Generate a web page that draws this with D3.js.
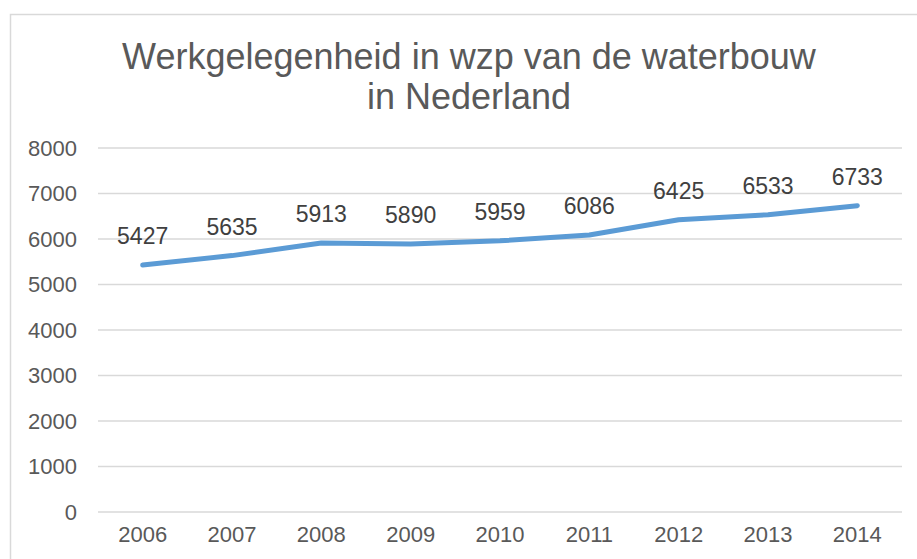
<!DOCTYPE html>
<html>
<head>
<meta charset="utf-8">
<script src="https://cdn.jsdelivr.net/npm/d3@7"></script>
<style>
  body { margin: 0; background: #fff; }
  text { font-family: "Liberation Sans", Arial, sans-serif; fill: #595959; }
</style>
</head>
<body>
<div id="chart"></div>
<script>
var years = ["2006", "2007", "2008", "2009", "2010", "2011", "2012", "2013", "2014"];
var jobs = [5427, 5635, 5913, 5890, 5959, 6086, 6425, 6533, 6733];
var yTicks = [0, 1000, 2000, 3000, 4000, 5000, 6000, 7000, 8000];
var titleLines = ["Werkgelegenheid in wzp van de waterbouw", "in Nederland"];

var width = 917, height = 559;
var plot = {left: 98, right: 902, top: 148, bottom: 512};

var svg = d3.select("#chart").append("svg")
    .attr("width", width)
    .attr("height", height);

// chart frame, runs off the right and bottom edge
svg.append("rect")
    .attr("x", 10.5).attr("y", 14.5)
    .attr("width", 940).attr("height", 600)
    .attr("fill", "#fff")
    .attr("stroke", "#d9d9d9")
    .attr("stroke-width", 1.5);

svg.selectAll(".title")
    .data(titleLines)
    .enter().append("text")
    .attr("class", "title")
    .attr("x", 469)
    .attr("y", function(d, i) { return 69 + i * 40; })
    .attr("text-anchor", "middle")
    .style("font-size", "36px")
    .text(function(d) { return d; });

var x = d3.scaleBand()
    .domain(years)
    .range([plot.left, plot.right]);

var y = d3.scaleLinear()
    .domain([0, 8000])
    .range([plot.bottom, plot.top]);

// gridlines
svg.append("g")
    .selectAll("line")
    .data(yTicks)
    .enter().append("line")
    .attr("x1", plot.left).attr("x2", plot.right)
    .attr("y1", function(d) { return y(d); })
    .attr("y2", function(d) { return y(d); })
    .attr("stroke", "#d9d9d9")
    .attr("stroke-width", 1.5);

var yAxis = d3.axisLeft(y).tickValues(yTicks).tickFormat(d3.format("d")).tickSize(0).tickPadding(21);
var yg = svg.append("g")
    .attr("transform", "translate(" + plot.left + ",0)")
    .call(yAxis);
yg.select(".domain").remove();
yg.selectAll("text").style("font-size", "22px").attr("fill", "#595959");

var xAxis = d3.axisBottom(x).tickSize(0).tickPadding(14);
var xg = svg.append("g")
    .attr("transform", "translate(0," + plot.bottom + ")")
    .call(xAxis);
xg.select(".domain").remove();
xg.selectAll("text").style("font-size", "22px").attr("fill", "#595959");

var valueline = d3.line()
    .x(function(d, i) { return x(years[i]) + x.bandwidth() / 2; })
    .y(function(d) { return y(d); });

svg.append("path")
    .datum(jobs)
    .attr("d", valueline)
    .attr("fill", "none")
    .attr("stroke", "#5b9bd5")
    .attr("stroke-width", 5)
    .attr("stroke-linejoin", "round")
    .attr("stroke-linecap", "round");

svg.selectAll(".label")
    .data(jobs)
    .enter().append("text")
    .attr("class", "label")
    .attr("x", function(d, i) { return x(years[i]) + x.bandwidth() / 2; })
    .attr("y", function(d) { return y(d) - 21; })
    .attr("text-anchor", "middle")
    .style("font-size", "23px")
    .style("fill", "#404040")
    .text(function(d) { return d; });
</script>
</body>
</html>
